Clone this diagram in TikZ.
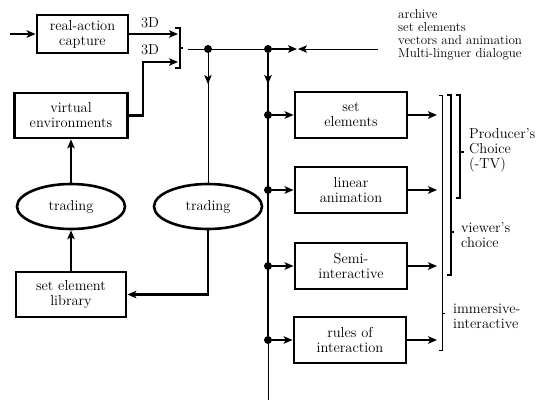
\documentclass[tikz,border=0pt]{standalone}
\usetikzlibrary{arrows.meta,shapes.geometric,calc}
\begin{document}
\begin{tikzpicture}[x=1pt,y=-1pt,
  txt/.style={font=\fontsize{14.5}{15}\selectfont},
  blk/.style={draw, line width=2.8pt, align=center, inner sep=0pt, txt},
  oval/.style={draw, ellipse, line width=2.6pt, minimum width=108pt, minimum height=45pt, inner sep=0pt, txt},
  heavy/.style={line width=2.2pt},
  medium/.style={line width=1.6pt},
  light/.style={line width=0.9pt},
  tip/.style={-{Stealth[length=9pt,width=7.5pt,inset=2.2pt]}},
  dot/.style={circle, fill, inner sep=0pt, minimum size=8pt},
  brk/.style={line width=2.4pt},
  note/.style={align=left, anchor=west, txt, inner sep=0pt},
]
\useasboundingbox (0,0) rectangle (546,405);

% ---- production side -------------------------------------------------
\node[blk, minimum width=91pt, minimum height=38pt] (rac) at (82.5,34) {real-action\\capture};
\node[blk, minimum width=113pt, minimum height=45pt] (venv) at (71,115.5) {virtual\\environments};
\node[oval] (trL) at (71,206.5) {trading};
\node[oval] (trR) at (208,206.5) {trading};
\node[blk, minimum width=110pt, minimum height=45pt] (lib) at (71,294.5) {set element\\library};

% input to the capture stage
\coordinate (in) at (10,34);
\draw[heavy,tip] (in) -- (rac.west);

% 3D join
\coordinate (jt) at (180,28);
\coordinate (jb) at (180,68);
\draw[brk] ($(jt)+(-5,0)$) -- (jt) -- (jb) -- ++(-5,0);
\draw[brk] (180,48) -- (183,48);
\coordinate (j1) at (178,34);
\coordinate (j2) at (178,62);
\coordinate (bend) at (143,62);
\draw[heavy,tip] (rac.east) -- (j1);
\draw[heavy,tip] (venv.east) -| (bend) -- (j2);
\node[txt] (l3a) at (150,23) {3D};
\node[txt] (l3b) at (150,50) {3D};

% top distribution line
\coordinate (jo) at (188,49);
\node[dot] (d0) at (208,49) {};
\node[dot] (d1) at (268,49) {};
\coordinate (meetA) at (297,49);
\coordinate (meetB) at (298,49);
\coordinate (src) at (378,49);
\draw[light] (jo) -- (d0) -- (d1);
\draw[medium,tip] (d1) -- (meetA);
\draw[light,tip] (src) -- (meetB);

% branch down to the right trading oval
\coordinate (a0) at (208,84);
\draw[light] (d0) -- (trR.north);
\draw[light,tip] (d0) -- (a0);

% trading loop on the left
\draw[heavy,tip] (trR.south) |- (lib.east);
\draw[medium,tip] (lib.north) -- (trL.south);
\draw[medium,tip] (trL.north) -- (venv.south);

% ---- delivery side ---------------------------------------------------
\node[blk, minimum width=112pt, minimum height=46pt] (se) at (351,115) {set\\elements};
\node[blk, minimum width=112pt, minimum height=46pt] (la) at (351,190) {linear\\animation};
\node[blk, minimum width=112pt, minimum height=46pt] (si) at (351,266) {Semi-\\interactive};
\node[blk, minimum width=112pt, minimum height=46pt] (ri) at (350,340) {rules of\\interaction};

\node[dot] (b1) at (268,115) {};
\node[dot] (b2) at (268,190) {};
\node[dot] (b3) at (268,266) {};
\node[dot] (b4) at (268,340) {};
\coordinate (a1) at (268,84);
\coordinate (bend2) at (268,400);
\draw[heavy] (d1) -- (b4);
\draw[heavy,tip] (d1) -- (a1);
\draw[light] (b4) -- (bend2);

\foreach \b/\n in {b1/se,b2/la,b3/si,b4/ri}
  \draw[heavy,tip] (\b) -- (\n.west);

\coordinate (o1) at (437,115);
\coordinate (o2) at (437,190);
\coordinate (o3) at (437,266);
\coordinate (o4) at (437,340);
\draw[heavy,tip] (se.east) -- (o1);
\draw[heavy,tip] (la.east) -- (o2);
\draw[heavy,tip] (si.east) -- (o3);
\draw[heavy,tip] (ri.east) -- (o4);

% audience brackets
\draw[light] (439,95) -- (442,95) -- (442,350) -- (439,350);
\draw[light] (442,313) -- (445,313);
\draw[brk] (447,95) -- (451,95) -- (451,275) -- (447,275);
\draw[brk] (451,232) -- (454,232);
\draw[brk] (456,95) -- (460,95) -- (460,198) -- (456,198);
\draw[brk] (460,152) -- (464,152);

\node[note] (prod) at (469,150) {Producer's\\Choice\\(-TV)};
\node[note] (view) at (461,235) {viewer's\\choice};
\node[note] (imm) at (453,316) {immersive-\\interactive};

% sources fed into the line
\node[align=left, anchor=north west, inner sep=0pt, font=\fontsize{13}{13}\selectfont] (srcs) at (398,9)
  {archive\\set elements\\vectors and animation\\Multi-linguer dialogue};
\end{tikzpicture}
\end{document}
